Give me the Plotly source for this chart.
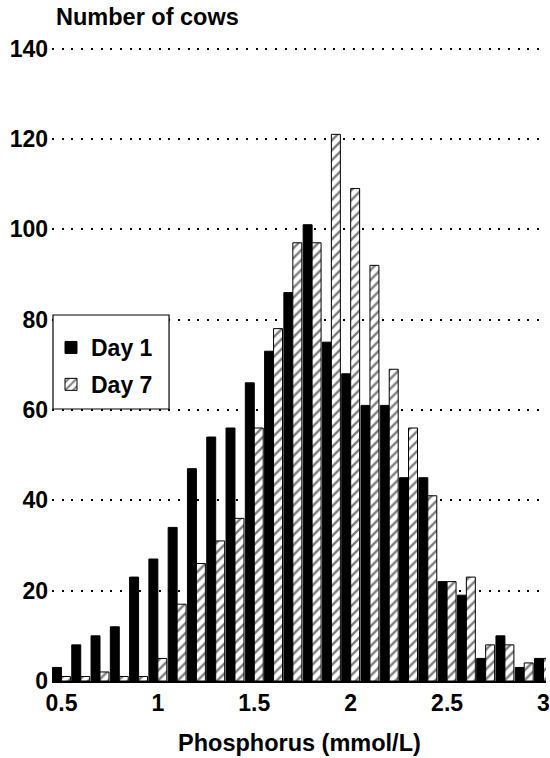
import plotly.graph_objects as go

# Phosphorus bins (mmol/L) and cow counts per bin
phosphorus = [0.5, 0.6, 0.7, 0.8, 0.9, 1.0, 1.1, 1.2, 1.3, 1.4, 1.5, 1.6, 1.7,
              1.8, 1.9, 2.0, 2.1, 2.2, 2.3, 2.4, 2.5, 2.6, 2.7, 2.8, 2.9, 3.0]
day1 = [3, 8, 10, 12, 23, 27, 34, 47, 54, 56, 66, 73, 86,
        101, 75, 68, 61, 61, 45, 45, 22, 19, 5, 10, 3, 5]
day7 = [1, 1, 2, 1, 1, 5, 17, 26, 31, 36, 56, 78, 97,
        97, 121, 109, 92, 69, 56, 41, 22, 23, 8, 8, 4, 5]

x_ticks = [0.5, 1, 1.5, 2, 2.5, 3]
x_tick_text = ["0.5", "1", "1.5", "2", "2.5", "3"]
y_ticks = [0, 20, 40, 60, 80, 100, 120, 140]

FONT = "Liberation Sans, Arial, Helvetica, sans-serif"

# plot area in pixels: left 52, top 44, bottom 681 (height 637)
PLOT_L, PLOT_W, PLOT_T, PLOT_B = 52, 498, 44, 681
PLOT_H = PLOT_B - PLOT_T


def px_x(p):
    return (p - PLOT_L) / PLOT_W


def px_y(p):
    return (PLOT_B - p) / PLOT_H


fig = go.Figure()
fig.add_trace(go.Bar(
    x=phosphorus, y=day1, name="Day 1", legendgroup="d1",
    marker=dict(color="black", line=dict(color="black", width=1)),
))
fig.add_trace(go.Bar(
    x=phosphorus, y=day7, name="Day 7", legendgroup="d7",
    marker=dict(
        color="white",
        line=dict(color="black", width=1),
        pattern=dict(shape="/", fgcolor="black", bgcolor="white",
                     size=7, solidity=0.35, fillmode="overlay"),
    ),
))

fig.update_layout(
    width=550, height=758,
    margin=dict(l=PLOT_L, r=0, t=PLOT_T, b=758 - PLOT_B),
    paper_bgcolor="white", plot_bgcolor="white",
    barmode="group", bargap=0.07, bargroupgap=0,
    font=dict(family=FONT, color="black"),
    showlegend=True,
    legend=dict(
        x=px_x(51), y=px_y(326), xanchor="left", yanchor="top",
        borderwidth=0, bgcolor="rgba(0,0,0,0)",
        font=dict(family=FONT, size=23, weight="bold", color="black"),
        traceorder="grouped", tracegroupgap=4,
    ),
    xaxis=dict(
        range=[0.451, 3.013],
        tickvals=x_ticks, ticktext=x_tick_text,
        tickfont=dict(family=FONT, size=23, weight="bold", color="black"),
        showgrid=False, zeroline=False,
        showline=True, linecolor="black", linewidth=1.5,
        ticks="", ticklabelstandoff=1, ticklabeloverflow="allow",
    ),
    yaxis=dict(
        range=[0, 141],
        tickvals=y_ticks,
        tickfont=dict(family=FONT, size=23, weight="bold", color="black"),
        showgrid=True, gridcolor="black", gridwidth=1.5, griddash="2px,7.7px",
        zeroline=False, showline=False, ticks="", ticklabelstandoff=3,
    ),
    shapes=[
        # legend frame
        dict(type="rect", xref="paper", yref="paper",
             x0=px_x(53), x1=px_x(170), y0=px_y(409), y1=px_y(315),
             line=dict(color="black", width=1.2), fillcolor="white",
             layer="above"),
    ],
    annotations=[
        dict(text="Number of cows", xref="paper", yref="paper",
             x=px_x(54), y=px_y(17.5), xanchor="left", yanchor="middle",
             showarrow=False,
             font=dict(family=FONT, size=23.5, weight="bold", color="black")),
        dict(text="Phosphorus (mmol/L)", xref="paper", yref="paper",
             x=px_x(301.5), y=px_y(742.5), xanchor="center", yanchor="middle",
             showarrow=False,
             font=dict(family=FONT, size=23.5, weight="bold", color="black")),
    ],
)

fig.write_html("out.html")
